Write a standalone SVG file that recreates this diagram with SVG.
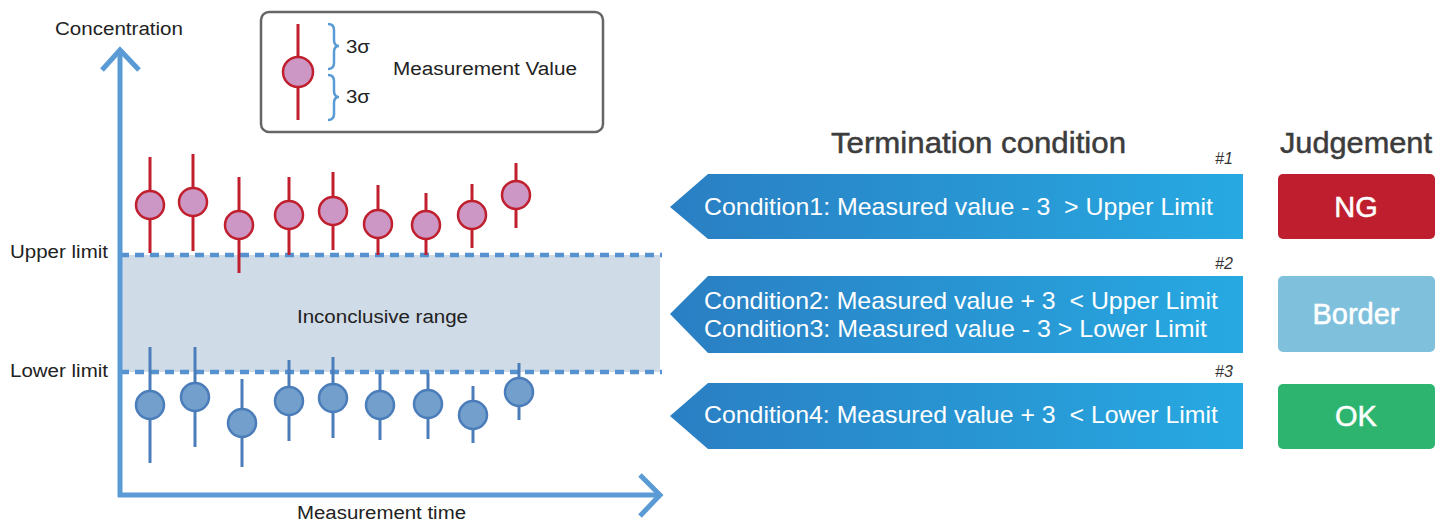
<svg xmlns="http://www.w3.org/2000/svg" width="1437" height="521" viewBox="0 0 1437 521">
<defs>
<style>
text{font-family:"Liberation Sans",Arial,sans-serif;}
.lbl{font-size:18px;fill:#222;}
.hd{font-size:29px;fill:#3c3c3c;stroke:#3c3c3c;stroke-width:0.5px;}
.cond{font-size:24px;fill:#fff;white-space:pre;}
.jt{font-size:29px;fill:#fff;text-anchor:middle;stroke:#fff;stroke-width:0.5px;}
.num{font-size:16px;fill:#333;font-style:italic;}
.axis{stroke:#5b9bd5;stroke-width:5;fill:none;}
.lim{stroke:#5592cf;stroke-width:4.5;stroke-dasharray:9 6;fill:none;}
.rl{stroke:#c01f2e;stroke-width:3;}
.rc{fill:#cc97c4;stroke:#c01f2e;stroke-width:2.5;}
.bl{stroke:#4a7db9;stroke-width:3;}
.bc{fill:#729fcb;stroke:#4a7db9;stroke-width:2.5;}
.brace{stroke:#5b9bd5;stroke-width:2.5;fill:none;}
</style>
<linearGradient id="bg" x1="0" y1="0" x2="1" y2="0">
<stop offset="0" stop-color="#2a7fc3"/>
<stop offset="1" stop-color="#27a9e1"/>
</linearGradient>
</defs>

<rect id="inconclusive" x="120" y="255" width="540" height="117" fill="#cfdbe6"/>

<g id="connectors">
<line class="lim" x1="120" y1="255" x2="662" y2="255"/>
<line class="lim" x1="120" y1="372" x2="662" y2="372"/>
<path class="axis" d="M120,497 V50"/>
<path class="axis" d="M102,70 L120,50 L139,70"/>
<path class="axis" d="M118,495 H659"/>
<path class="axis" d="M640,475 L660,495 L640,516"/>
</g>

<g id="axis-labels">
<text class="lbl" x="55" y="35" textLength="128" lengthAdjust="spacingAndGlyphs">Concentration</text>
<text class="lbl" x="10" y="258" textLength="98" lengthAdjust="spacingAndGlyphs">Upper limit</text>
<text class="lbl" x="10" y="377" textLength="98" lengthAdjust="spacingAndGlyphs">Lower limit</text>
<text class="lbl" x="297" y="323" textLength="171" lengthAdjust="spacingAndGlyphs">Inconclusive range</text>
<text class="lbl" x="297" y="519" textLength="169" lengthAdjust="spacingAndGlyphs">Measurement time</text>
</g>

<g id="legend">
<rect x="261" y="12" width="342" height="120" rx="8" fill="#fff" stroke="#666" stroke-width="2.5"/>
<line class="rl" x1="298" y1="24" x2="298" y2="120"/>
<circle class="rc" cx="298" cy="72" r="15"/>
<path class="brace" d="M328,24 Q334,24 334,30 V40 Q334,46 339,46 Q334,46 334,52 V63 Q334,69 328,69"/>
<path class="brace" d="M328,75 Q334,75 334,81 V91 Q334,97 339,97 Q334,97 334,103 V114 Q334,120 328,120"/>
<text class="lbl" x="346" y="53" textLength="24" lengthAdjust="spacingAndGlyphs">3σ</text>
<text class="lbl" x="346" y="103" textLength="24" lengthAdjust="spacingAndGlyphs">3σ</text>
<text class="lbl" x="393" y="75" textLength="184" lengthAdjust="spacingAndGlyphs">Measurement Value</text>
</g>

<g id="upper-points">
<line class="rl" x1="150" y1="157" x2="150" y2="253"/><circle class="rc" cx="150" cy="205" r="14"/>
<line class="rl" x1="193" y1="154" x2="193" y2="251"/><circle class="rc" cx="193" cy="202" r="14"/>
<line class="rl" x1="239" y1="177" x2="239" y2="273"/><circle class="rc" cx="239" cy="225" r="14"/>
<line class="rl" x1="289" y1="177" x2="289" y2="255"/><circle class="rc" cx="289" cy="215" r="14"/>
<line class="rl" x1="333" y1="172" x2="333" y2="250"/><circle class="rc" cx="333" cy="211" r="14"/>
<line class="rl" x1="378" y1="185" x2="378" y2="255"/><circle class="rc" cx="378" cy="224" r="14"/>
<line class="rl" x1="426" y1="193" x2="426" y2="255"/><circle class="rc" cx="426" cy="225" r="14"/>
<line class="rl" x1="472" y1="184" x2="472" y2="248"/><circle class="rc" cx="472" cy="215" r="14"/>
<line class="rl" x1="516" y1="163" x2="516" y2="228"/><circle class="rc" cx="516" cy="195" r="14"/>
</g>

<g id="lower-points">
<line class="bl" x1="150" y1="347" x2="150" y2="463"/><circle class="bc" cx="150" cy="405" r="14"/>
<line class="bl" x1="195" y1="347" x2="195" y2="447"/><circle class="bc" cx="195" cy="397" r="14"/>
<line class="bl" x1="242" y1="379" x2="242" y2="467"/><circle class="bc" cx="242" cy="423" r="14"/>
<line class="bl" x1="289" y1="360" x2="289" y2="441"/><circle class="bc" cx="289" cy="401" r="14"/>
<line class="bl" x1="333" y1="357" x2="333" y2="438"/><circle class="bc" cx="333" cy="398" r="14"/>
<line class="bl" x1="380" y1="373" x2="380" y2="440"/><circle class="bc" cx="380" cy="405" r="14"/>
<line class="bl" x1="428" y1="373" x2="428" y2="439"/><circle class="bc" cx="428" cy="404" r="14"/>
<line class="bl" x1="473" y1="386" x2="473" y2="443"/><circle class="bc" cx="473" cy="415" r="14"/>
<line class="bl" x1="519" y1="363" x2="519" y2="420"/><circle class="bc" cx="519" cy="392" r="14"/>
</g>

<g id="headers">
<text class="hd" x="831" y="153" textLength="295" lengthAdjust="spacingAndGlyphs">Termination condition</text>
<text class="hd" x="1280" y="153" textLength="152" lengthAdjust="spacingAndGlyphs">Judgement</text>
</g>

<g id="condition1">
<text class="num" x="1215" y="164">#1</text>
<path d="M670,207 L708,174 H1243 V239 H708 Z" fill="url(#bg)"/>
<text class="cond" x="704" y="215" textLength="509" lengthAdjust="spacingAndGlyphs" xml:space="preserve">Condition1: Measured value - 3  &gt; Upper Limit</text>
</g>
<g id="condition2">
<text class="num" x="1215" y="269">#2</text>
<path d="M670,314 L708,276 H1243 V353 H708 Z" fill="url(#bg)"/>
<text class="cond" x="704" y="309" textLength="514" lengthAdjust="spacingAndGlyphs" xml:space="preserve">Condition2: Measured value + 3  &lt; Upper Limit</text>
<text class="cond" x="704" y="337" textLength="503" lengthAdjust="spacingAndGlyphs">Condition3: Measured value - 3 &gt; Lower Limit</text>
</g>
<g id="condition3">
<text class="num" x="1215" y="377">#3</text>
<path d="M670,416 L708,383 H1243 V449 H708 Z" fill="url(#bg)"/>
<text class="cond" x="704" y="423" textLength="514" lengthAdjust="spacingAndGlyphs" xml:space="preserve">Condition4: Measured value + 3  &lt; Lower Limit</text>
</g>

<g id="judge-ng">
<rect x="1278" y="174" width="157" height="65" rx="5" fill="#be1e2d"/>
<text class="jt" x="1356" y="217">NG</text>
</g>
<g id="judge-border">
<rect x="1278" y="276" width="157" height="76" rx="5" fill="#7fc1dc"/>
<text class="jt" x="1356" y="324">Border</text>
</g>
<g id="judge-ok">
<rect x="1278" y="384" width="157" height="65" rx="5" fill="#2db56f"/>
<text class="jt" x="1356" y="426">OK</text>
</g>
</svg>
